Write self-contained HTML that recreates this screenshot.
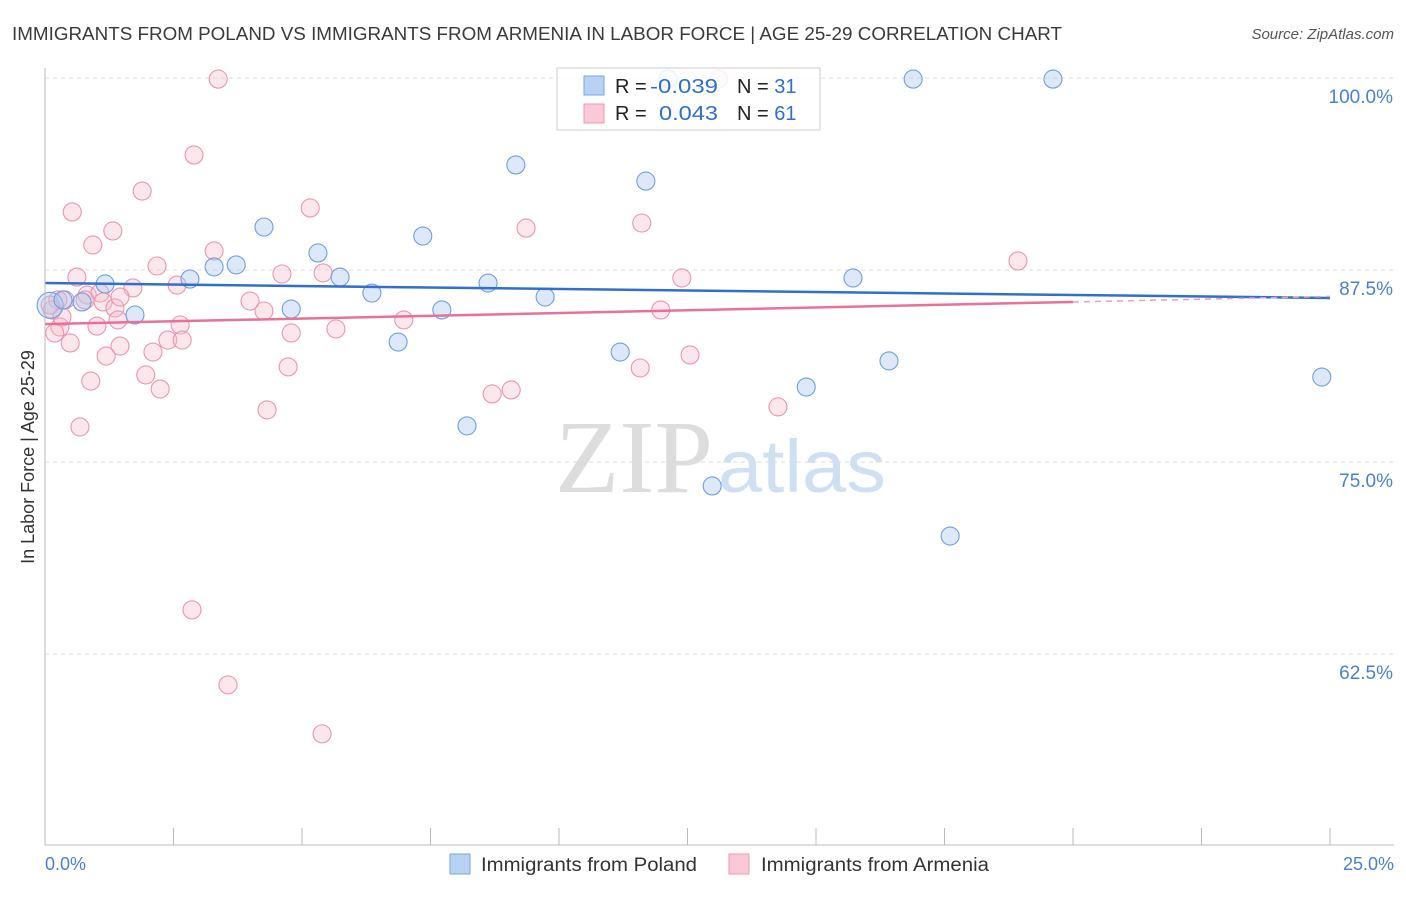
<!DOCTYPE html>
<html><head><meta charset="utf-8"><style>
body{margin:0;background:#fff;font-family:"Liberation Sans",sans-serif}
</style></head><body>
<svg id="c" width="1406" height="892" xmlns="http://www.w3.org/2000/svg">
<text x="12" y="40" font-size="18" fill="#3a3a3a" textLength="1050" lengthAdjust="spacingAndGlyphs">IMMIGRANTS FROM POLAND VS IMMIGRANTS FROM ARMENIA IN LABOR FORCE | AGE 25-29 CORRELATION CHART</text>
<text x="1394" y="39" font-size="15" fill="#555" font-style="italic" text-anchor="end">Source: ZipAtlas.com</text>
<text x="555" y="492" font-size="104" font-family="Liberation Serif" fill="#ddd" textLength="158" lengthAdjust="spacingAndGlyphs">ZIP</text>
<text x="718" y="492" font-size="74" fill="#cfe0f3" textLength="168" lengthAdjust="spacingAndGlyphs">atlas</text>
<text transform="translate(34,457) rotate(-90)" font-size="18" fill="#333" text-anchor="middle">In Labor Force | Age 25-29</text>
<g id="grid"></g><g id="pts"></g><g id="lines"></g>
<line x1="45" y1="68" x2="45" y2="845" stroke="#bbb"/>
<line x1="45" y1="845" x2="1394" y2="845" stroke="#bbb"/>
<text x="45" y="870" font-size="18" fill="#4a7fd4">0.0%</text>
<text x="1394" y="870" font-size="18" fill="#4a7fd4" text-anchor="end">25.0%</text>
<g>
<rect x="557" y="68" width="263" height="62" fill="#fff" fill-opacity="0.85" stroke="#ccc"/>
<rect x="584" y="76" width="20" height="19" fill="#b8d2f4" stroke="#7aa6e6"/>
<rect x="584" y="104" width="20" height="19" fill="#fbc8d7" stroke="#ee9ab5"/>
<text x="615" y="93" font-size="20" fill="#222">R =</text>
<text x="650" y="93" font-size="20" fill="#2f6fd0" textLength="68" lengthAdjust="spacingAndGlyphs">-0.039</text>
<text x="737" y="93" font-size="20" fill="#222">N = <tspan fill="#2f6fd0">31</tspan></text>
<text x="615" y="120" font-size="20" fill="#222">R =</text>
<text x="659" y="120" font-size="20" fill="#2f6fd0" textLength="59" lengthAdjust="spacingAndGlyphs">0.043</text>
<text x="737" y="120" font-size="20" fill="#222">N = <tspan fill="#2f6fd0">61</tspan></text>
</g>
<g>
<rect x="450" y="854" width="20" height="20" fill="#b8d2f4" stroke="#7aa6e6"/>
<text x="481" y="871" font-size="19" fill="#333" textLength="216" lengthAdjust="spacingAndGlyphs">Immigrants from Poland</text>
<rect x="729" y="854" width="20" height="20" fill="#fbc8d7" stroke="#ee9ab5"/>
<text x="761" y="871" font-size="19" fill="#333" textLength="228" lengthAdjust="spacingAndGlyphs">Immigrants from Armenia</text>
</g>
</svg>
<script>
const yTicks=[100,87.5,75,62.5];
const yTickLabels=["100.0%","87.5%","75.0%","62.5%"];
const xTicks=[0,2.5,5,7.5,10,12.5,15,17.5,20,22.5,25];
const polandX=[0.10,0.72,1.17,1.75,2.82,3.29,3.72,4.26,4.79,5.31,5.74,6.36,6.87,7.35,7.72,8.21,8.62,9.16,9.73,11.19,11.69,12.98,14.81,15.72,16.42,16.89,17.61,19.61,24.84,0.35,12.12];
const polandY=[85.2,85.42,86.59,84.57,86.91,87.70,87.83,90.30,84.96,88.61,87.04,86.00,82.81,89.71,84.90,77.35,86.65,94.34,85.74,82.16,93.29,73.44,79.88,86.98,81.58,99.93,70.18,99.93,80.53,85.55,99.93];
const armeniaX=[3.37,2.90,1.89,0.53,5.16,1.32,0.93,3.29,9.36,11.61,2.18,0.62,4.61,5.41,2.57,1.71,0.82,1.07,1.13,0.39,3.99,1.36,4.26,11.98,12.39,18.93,6.98,1.42,1.01,2.63,0.29,5.66,4.79,0.19,2.39,2.67,0.49,1.46,2.10,1.19,12.55,11.58,4.73,1.96,0.89,2.24,9.07,8.70,14.26,4.32,0.68,2.86,3.56,5.39,0.25,0.14,13.10,0.10,0.78,1.46,0.33];
const armeniaY=[99.93,94.99,92.64,91.28,91.54,90.04,89.13,88.74,90.23,90.56,87.76,87.04,87.24,87.31,86.52,86.33,85.87,86.00,85.42,85.55,85.48,85.03,84.83,84.90,86.98,88.09,84.25,84.25,83.85,83.92,83.79,83.66,83.40,83.40,82.94,82.94,82.75,82.55,82.16,81.90,81.97,81.12,81.19,80.67,80.27,79.75,79.69,79.43,78.59,78.39,77.28,65.37,60.49,57.30,85.55,84.90,99.93,85.22,85.55,85.74,84.44];
const trendPoland=[86.65,85.68];
const trendArmenia=[83.98,85.42,20];
const X=v=>45+v/25*1285, Y=v=>78+(100-v)/12.5*192;
const NS="http://www.w3.org/2000/svg";
function mk(t,a,p){const e=document.createElementNS(NS,t);for(const k in a)e.setAttribute(k,a[k]);p.appendChild(e);return e;}
const grid=document.getElementById('grid');
yTicks.forEach((t,i)=>{
 const l=mk('line',{x1:45,x2:1394,y1:Y(t),y2:Y(t),stroke:'#ddd','stroke-dasharray':'4,4'},grid);
 
 
 const tx=mk('text',{x:1393,y:Y(t)+25,'font-size':19,fill:'#4a7fd4','text-anchor':'end'},grid);
 tx.textContent=yTickLabels[i];
 
 
});
xTicks.forEach(t=>{
 const l=mk('line',{x1:X(t),x2:X(t),y1:828,y2:845,stroke:'#bbb'},grid);
 
 
});
const pts=document.getElementById('pts');
armeniaX.forEach((x,i)=>{
 const c=mk('circle',{cx:X(x),cy:Y(armeniaY[i]),r:9,fill:'#f7b9cc','fill-opacity':0.35,stroke:'#eb95b0','stroke-width':1.1},pts);
 
 
});
polandX.forEach((x,i)=>{
 const c=mk('circle',{cx:X(x),cy:Y(polandY[i]),r:i==0?13:9,fill:'#a9c8f0','fill-opacity':0.4,stroke:'#6e9fe2','stroke-width':1.1},pts);
 
 
});
const lines=document.getElementById('lines');
let l=mk('line',{x1:X(0),y1:Y(trendPoland[0]),x2:X(25),y2:Y(trendPoland[1]),stroke:'#2f6fd0','stroke-width':2.5},lines);


l=mk('line',{x1:X(0),y1:Y(trendArmenia[0]),x2:X(trendArmenia[2]),y2:Y(trendArmenia[1]),stroke:'#e8709a','stroke-width':2.5},lines);


const slope=(trendArmenia[1]-trendArmenia[0])/trendArmenia[2];
l=mk('line',{x1:X(trendArmenia[2]),y1:Y(trendArmenia[1]),x2:X(25),y2:Y(trendArmenia[0]+slope*25),stroke:'#e8a0b8','stroke-width':1.5,'stroke-dasharray':'6,5'},lines);


</script>
</body></html>
